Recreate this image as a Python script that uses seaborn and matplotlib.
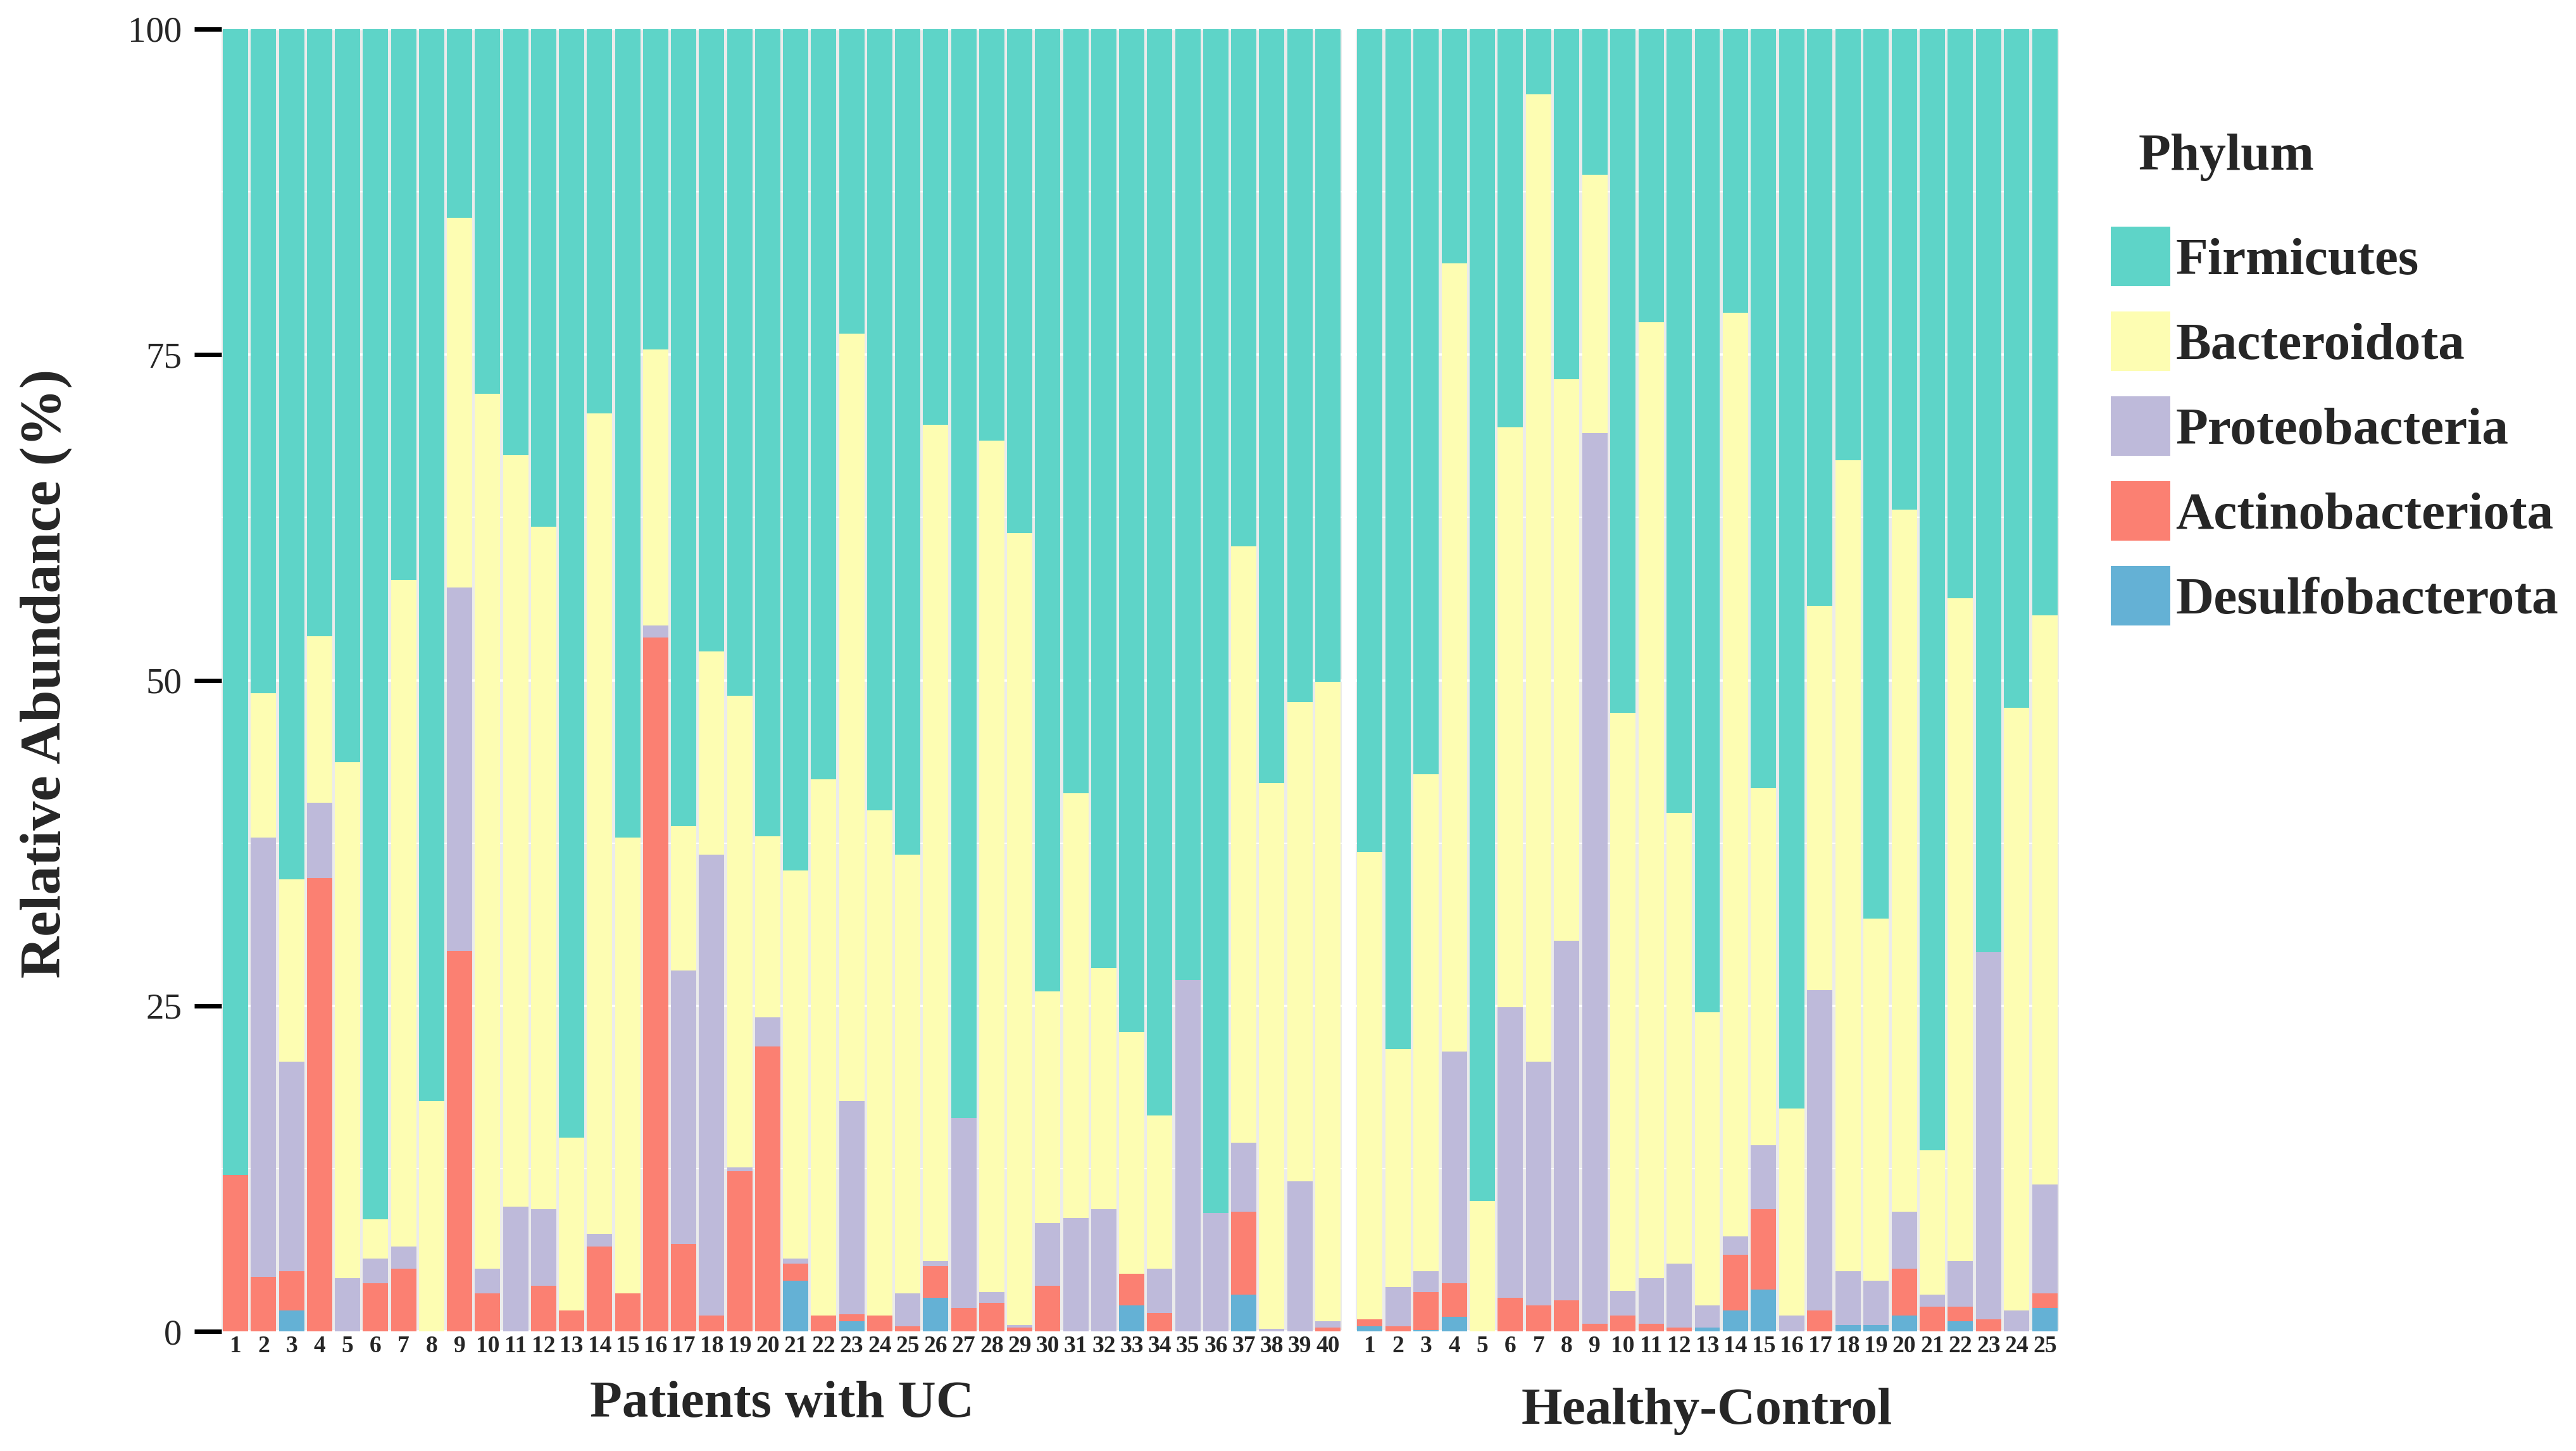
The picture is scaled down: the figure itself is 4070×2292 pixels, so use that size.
import numpy as np
import pandas as pd
import matplotlib
matplotlib.use("Agg")
import matplotlib.pyplot as plt
import seaborn as sns
from matplotlib.patches import Patch

# ---------------- data ----------------
phyla = ["Firmicutes", "Bacteroidota", "Proteobacteria", "Actinobacteriota", "Desulfobacterota"]
phylum_colors = ["#5ED4C8", "#FDFDB2", "#BEBADA", "#FB8072", "#64B1D5"]

uc_samples = [str(i) for i in range(1, 41)]
hc_samples = [str(i) for i in range(1, 26)]
group_titles = ["Patients with UC", "Healthy-Control"]

uc_desulfo = [0, 0, 1.6, 0, 0, 0, 0, 0, 0, 0,
              0, 0, 0, 0, 0, 0, 0, 0, 0, 0,
              3.9, 0, 0.8, 0, 0, 2.6, 0, 0, 0, 0,
              0, 0, 2.0, 0, 0, 0, 2.8, 0, 0, 0]
uc_actino = [12.0, 4.2, 3.0, 34.8, 0, 3.7, 4.8, 0, 29.2, 2.9,
             0, 3.5, 1.6, 6.5, 2.9, 53.3, 6.7, 1.2, 12.3, 21.9,
             1.3, 1.2, 0.5, 1.2, 0.4, 2.4, 1.8, 2.2, 0.3, 3.5,
             0, 0, 2.4, 1.4, 0, 0, 6.4, 0, 0, 0.3]
uc_proteo = [0, 33.7, 16.1, 5.8, 4.1, 1.9, 1.7, 0, 27.9, 1.9,
             9.6, 5.9, 0, 1.0, 0, 0.9, 21.0, 35.4, 0.3, 2.2,
             0.4, 0, 16.4, 0, 2.5, 0.4, 14.6, 0.8, 0.2, 4.8,
             8.7, 9.4, 0, 3.4, 27.0, 9.1, 5.3, 0.2, 11.5, 0.5]
uc_bactero = [0, 11.1, 14.0, 12.8, 39.6, 3.0, 51.2, 17.7, 28.4, 67.2,
              57.7, 52.4, 13.3, 63.0, 35.0, 21.2, 11.1, 15.6, 36.2, 13.9,
              29.8, 41.2, 58.9, 38.8, 33.7, 64.2, 0, 65.4, 60.8, 17.8,
              32.6, 18.5, 18.6, 11.8, 0, 0, 45.8, 41.9, 36.8, 49.1]
uc_firmi = [88.0, 51.0, 65.3, 46.6, 56.3, 91.4, 42.3, 82.3, 14.5, 28.0,
            32.7, 38.2, 85.1, 29.5, 62.1, 24.6, 61.2, 47.8, 51.2, 62.0,
            64.6, 57.6, 23.4, 60.0, 63.4, 30.4, 83.6, 31.6, 38.7, 73.9,
            58.7, 72.1, 77.0, 83.4, 73.0, 90.9, 39.7, 57.9, 51.7, 50.1]

hc_desulfo = [0.4, 0, 0.1, 1.1, 0, 0, 0, 0, 0, 0,
              0, 0, 0.3, 1.6, 3.2, 0, 0, 0.5, 0.5, 1.2,
              0, 0.8, 0, 0, 1.8]
hc_actino = [0.5, 0.4, 2.9, 2.6, 0, 2.6, 2.0, 2.4, 0.6, 1.2,
             0.6, 0.3, 0, 4.3, 6.2, 0, 1.6, 0, 0, 3.6,
             1.9, 1.1, 0.9, 0, 1.1]
hc_proteo = [0, 3.0, 1.6, 17.8, 0, 22.3, 18.7, 27.6, 68.4, 1.9,
             3.5, 4.9, 1.7, 1.4, 4.9, 1.2, 24.6, 4.1, 3.4, 4.4,
             0.9, 3.5, 28.2, 1.6, 8.4]
hc_bactero = [35.9, 18.3, 38.2, 60.5, 10.0, 44.5, 74.3, 43.1, 19.8, 44.4,
              73.4, 34.6, 22.5, 70.9, 27.4, 15.9, 29.5, 62.3, 27.8, 53.9,
              11.1, 50.9, 0, 46.3, 43.7]
hc_firmi = [63.2, 78.3, 57.2, 18.0, 90.0, 30.6, 5.0, 26.9, 11.2, 52.5,
            22.5, 60.2, 75.5, 21.8, 58.3, 82.9, 44.3, 33.1, 68.3, 36.9,
            86.1, 43.7, 70.9, 52.1, 45.0]

y_ticks = [0, 25, 50, 75, 100]

# ---------------- style ----------------
sns.set_theme(style="white")
plt.rcParams["font.family"] = ["Liberation Serif", "DejaVu Serif"]

W, H = 4070, 2292
fig = plt.figure(figsize=(W / 100, H / 100), dpi=100)


def rect(x0, x1, y0, y1):
    return [x0 / W, 1 - y1 / H, (x1 - x0) / W, (y1 - y0) / H]


ax1 = fig.add_axes(rect(350, 2120, 46, 2103))
ax2 = fig.add_axes(rect(2142, 3253, 46, 2103))

color_map = dict(zip(phyla, phylum_colors))
# stacking order from bottom up
stack_order = ["Desulfobacterota", "Actinobacteriota", "Proteobacteria", "Bacteroidota", "Firmicutes"]


def draw_panel(ax, samples, series):
    df = pd.DataFrame({"Sample": samples})
    cum = np.zeros(len(samples))
    cums = {}
    for p in stack_order:
        cum = cum + np.asarray(series[p], dtype=float)
        cums[p] = cum.copy()
    for p in reversed(stack_order):
        df["value"] = cums[p]
        sns.barplot(data=df, x="Sample", y="value", order=samples,
                    color=color_map[p], saturation=1, width=0.9,
                    linewidth=0, errorbar=None, ax=ax)
    ax.set_facecolor("#EBEBEB")
    ax.set_xlim(-0.5, len(samples) - 0.5)
    ax.set_ylim(0, 100)
    ax.set_yticks(y_ticks)
    ax.set_yticks([12.5, 37.5, 62.5, 87.5], minor=True)
    ax.set_axisbelow(True)
    ax.grid(axis="y", which="major", color="white", lw=2.6)
    ax.grid(axis="y", which="minor", color="white", lw=1.3)
    ax.grid(axis="x", which="major", color="white", lw=2.6)
    for s in ax.spines.values():
        s.set_visible(False)
    ax.set_xlabel("")
    ax.set_ylabel("")
    ax.tick_params(axis="x", length=0, pad=4, labelsize=27)
    for lab in ax.get_xticklabels():
        lab.set_fontweight("bold")


draw_panel(ax1, uc_samples, {
    "Desulfobacterota": uc_desulfo, "Actinobacteriota": uc_actino,
    "Proteobacteria": uc_proteo, "Bacteroidota": uc_bactero, "Firmicutes": uc_firmi})
draw_panel(ax2, hc_samples, {
    "Desulfobacterota": hc_desulfo, "Actinobacteriota": hc_actino,
    "Proteobacteria": hc_proteo, "Bacteroidota": hc_bactero, "Firmicutes": hc_firmi})

ax1.tick_params(axis="y", which="major", length=31, width=5, color="black",
                labelsize=41, pad=14, left=True)
ax1.tick_params(axis="y", which="minor", length=0)
ax2.tick_params(axis="y", which="both", left=False, labelleft=False, length=0)

# axis label & panel titles
fig.text(73 / W, 1 - 1064 / H, "Relative Abundance (%)", rotation=90,
         ha="center", va="center", fontsize=66, fontweight="bold")
fig.text(1235 / W, 1 - 2238 / H, group_titles[0], ha="center", va="baseline",
         fontsize=60, fontweight="bold")
fig.text(2697 / W, 1 - 2249 / H, group_titles[1], ha="center", va="baseline",
         fontsize=60, fontweight="bold")

# legend
fig.text(3379 / W, 1 - 268 / H, "Phylum", ha="left", va="baseline",
         fontsize=60, fontweight="bold")
handles = [Patch(facecolor=c, edgecolor="none", label=p) for p, c in zip(phyla, phylum_colors)]
fig.legend(handles=handles, loc="upper left", bbox_to_anchor=(3335 / W, 1 - 358 / H),
           frameon=False, borderpad=0, borderaxespad=0,
           handlelength=1.128, handleheight=1.359, handletextpad=0.1,
           labelspacing=0.48, prop={"weight": "bold", "size": 60})

fig.savefig("out.png", dpi=100, facecolor="white")
